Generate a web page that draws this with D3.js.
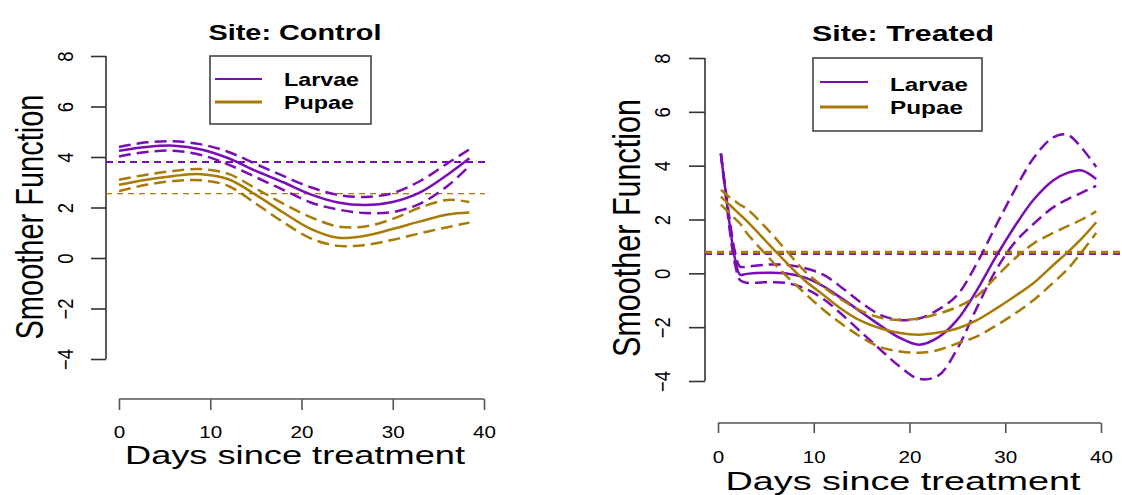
<!DOCTYPE html>
<html lang="en">
<head>
<meta charset="utf-8">
<title>Smoother functions by site</title>
<script src="https://d3js.org/d3.v7.min.js"></script>
<style>
  body { margin: 0; background: #fff; }
  svg text { font-family: "Liberation Sans", Arial, sans-serif; fill: #000; }
</style>
</head>
<body>
<div id="chart"></div>
<script>
"use strict";

// ---- data ----
const yTicks = [-4, -2, 0, 2, 4, 6, 8];
const xTicks = [0, 10, 20, 30, 40];
const legendLabels = ["Larvae", "Pupae"];

const controlDays = [0, 3, 6, 9, 12, 15, 18, 21, 24, 27, 30, 33, 36, 38.4];
const controlLarvaeFit   = [4.25, 4.4, 4.45, 4.3, 3.95, 3.45, 3.0, 2.52, 2.2, 2.1, 2.22, 2.6, 3.3, 3.95];
const controlLarvaeUpper = [4.4, 4.58, 4.62, 4.5, 4.2, 3.72, 3.25, 2.8, 2.5, 2.42, 2.57, 3.05, 3.75, 4.3];
const controlLarvaeLower = [4.02, 4.2, 4.25, 4.08, 3.7, 3.2, 2.7, 2.2, 1.92, 1.78, 1.82, 2.15, 2.85, 3.65];
const controlPupaeFit    = [2.9, 3.1, 3.25, 3.32, 3.12, 2.5, 1.8, 1.15, 0.8, 0.88, 1.15, 1.45, 1.72, 1.8];
const controlPupaeUpper  = [3.1, 3.3, 3.45, 3.52, 3.33, 2.75, 2.15, 1.62, 1.25, 1.25, 1.55, 2.0, 2.3, 2.22];
const controlPupaeLower  = [2.65, 2.9, 3.05, 3.08, 2.85, 2.15, 1.42, 0.78, 0.48, 0.52, 0.72, 0.98, 1.22, 1.4];
const controlRefLines    = [3.8, 2.55];   // larvae, pupae

const treatedDays = [0.3, 0.8, 1.3, 1.8, 2.3, 3, 5, 7, 9, 11, 13, 15, 17, 19, 21, 23, 25, 27, 29, 31, 33, 35, 36.5, 38, 39.5];
const treatedLarvaeFit   = [4.45, 3.0, 1.6, 0.5, -0.05, -0.02, 0.02, 0.0, -0.15, -0.48, -0.95, -1.45, -1.95, -2.4, -2.65, -2.38, -1.72, -0.65, 0.6, 1.75, 2.75, 3.45, 3.73, 3.82, 3.5];
const treatedLarvaeUpper = [4.45, 3.1, 1.8, 0.75, 0.25, 0.25, 0.32, 0.32, 0.2, -0.05, -0.55, -1.1, -1.55, -1.73, -1.68, -1.35, -0.8, 0.35, 1.75, 3.1, 4.3, 5.05, 5.15, 4.65, 3.95];
const treatedLarvaeLower = [4.45, 2.9, 1.4, 0.3, -0.25, -0.35, -0.33, -0.35, -0.55, -0.95, -1.55, -2.2, -2.85, -3.47, -3.92, -3.8, -2.8, -1.3, 0.1, 1.15, 1.85, 2.45, 2.75, 3.0, 3.25];
const treatedPupaeFit    = [2.85, 2.68, 2.52, 2.35, 2.18, 1.95, 1.2, 0.45, -0.25, -0.8, -1.35, -1.78, -2.05, -2.22, -2.28, -2.2, -2.05, -1.75, -1.32, -0.85, -0.35, 0.3, 0.78, 1.3, 1.9];
const treatedPupaeUpper  = [3.1, 2.95, 2.8, 2.68, 2.55, 2.4, 1.7, 0.9, 0.1, -0.5, -1.0, -1.4, -1.65, -1.73, -1.68, -1.5, -1.25, -0.85, -0.15, 0.55, 1.12, 1.5, 1.75, 2.0, 2.3];
const treatedPupaeLower  = [2.55, 2.38, 2.2, 2.02, 1.85, 1.5, 0.7, -0.05, -0.72, -1.35, -1.9, -2.38, -2.75, -2.9, -2.95, -2.85, -2.6, -2.35, -1.95, -1.5, -0.98, -0.35, 0.15, 0.8, 1.5];
const treatedRefLines    = [0.74, 0.78];

// ---- look ----
const purple = "#7a0db3", gold = "#a87a06", axisCol = "#333";

const panels = [
  { title: "Site: Control", days: controlDays,
    larvae: [controlLarvaeFit, controlLarvaeUpper, controlLarvaeLower],
    pupae:  [controlPupaeFit, controlPupaeUpper, controlPupaeLower],
    refs: controlRefLines,
    xr: [119, 484], yr: [359, 56], xAxisY: 399, yAxisX: 106, refEnd: 485,
    ytick: 15, xtick: 11, yLabX: 65, xLabY: 438, titleX: 295, titleY: 40, titleW: 173,
    xTitleY: 464, xTitleW: 340, yTitleX: 43, yTitleY: 217, yTitleL: 245,
    legend: { x0: 210, x1: 371, y0: 56, y1: 124, lx0: 215, lx1: 262, ly: [79, 102], tx: 284, ty: [86, 109], tw: [75, 70] },
    refStyle: [{ w: 2, dash: "7,5" }, { w: 1.3, dash: "6,5" }] },
  { title: "Site: Treated", days: treatedDays,
    larvae: [treatedLarvaeFit, treatedLarvaeUpper, treatedLarvaeLower],
    pupae:  [treatedPupaeFit, treatedPupaeUpper, treatedPupaeLower],
    refs: treatedRefLines,
    xr: [718, 1101], yr: [381, 58], xAxisY: 423, yAxisX: 705, refEnd: 1120,
    ytick: 16, xtick: 10, yLabX: 662, xLabY: 463, titleX: 903, titleY: 41, titleW: 182,
    xTitleY: 490, xTitleW: 355, yTitleX: 640, yTitleY: 228, yTitleL: 258,
    legend: { x0: 813, x1: 982, y0: 58, y1: 131, lx0: 820, lx1: 868, ly: [82, 107], tx: 890, ty: [91, 114], tw: [78, 73] },
    refStyle: [{ w: 3, dash: "7,5" }, { w: 3, dash: "7,5" }] }
];

const svg = d3.select("#chart").append("svg")
  .attr("width", 1122).attr("height", 495);

panels.forEach(drawPanel);

function drawPanel(p) {
  const x = d3.scaleLinear().domain([0, 40]).range(p.xr);
  const y = d3.scaleLinear().domain([-4, 8]).range(p.yr);
  const g = svg.append("g");

  // y axis (labels rotated like R's las=0)
  const ya = g.append("g")
    .attr("transform", "translate(" + p.yAxisX + ",0)")
    .call(d3.axisLeft(y).tickValues(yTicks).tickSize(p.ytick).tickSizeOuter(0).tickFormat(d3.format("d")));
  ya.select(".domain").attr("d", "M0," + y(-4) + "V" + y(8));
  ya.selectAll("line, path").attr("stroke", axisCol).attr("stroke-width", 1.6);
  ya.selectAll("text")
    .attr("x", null).attr("dy", null)
    .attr("font-size", 18.5)
    .attr("text-anchor", "middle")
    .attr("transform", "translate(" + (p.yLabX - p.yAxisX + 8) + ",0) scale(1.2,1) rotate(-90)");

  // x axis
  const xa = g.append("g")
    .attr("transform", "translate(0," + p.xAxisY + ")")
    .call(d3.axisBottom(x).tickValues(xTicks).tickSize(p.xtick).tickSizeOuter(0));
  xa.selectAll("line, path").attr("stroke", "#555").attr("stroke-width", 1.6);
  xa.select(".domain").attr("d", "M" + x(0) + ",0H" + x(40));
  xa.selectAll("text")
    .attr("y", null).attr("dy", null)
    .attr("font-size", 16.5)
    .attr("transform", "translate(0," + (p.xLabY - p.xAxisY) + ") scale(1.25,1)");

  // horizontal reference lines
  [purple, gold].forEach((c, i) => {
    g.append("line")
      .attr("x1", p.yAxisX).attr("x2", p.refEnd)
      .attr("y1", y(p.refs[i])).attr("y2", y(p.refs[i]))
      .attr("stroke", c).attr("stroke-width", p.refStyle[i].w)
      .attr("stroke-dasharray", p.refStyle[i].dash);
  });

  // smoother curves with bands
  const line = vals => d3.line()
    .x((d, i) => x(p.days[i]))
    .y(d => y(d))
    .curve(d3.curveCatmullRom.alpha(0.5))(vals);

  [[p.larvae, purple], [p.pupae, gold]].forEach(([set, c]) => {
    set.forEach((vals, k) => {
      g.append("path")
        .attr("d", line(vals))
        .attr("fill", "none")
        .attr("stroke", c)
        .attr("stroke-width", 2.5)
        .attr("stroke-dasharray", k === 0 ? null : "12,6");
    });
  });

  // title
  g.append("text")
    .attr("x", p.titleX).attr("y", p.titleY)
    .attr("text-anchor", "middle")
    .attr("font-size", 22).attr("font-weight", "bold")
    .attr("textLength", p.titleW).attr("lengthAdjust", "spacingAndGlyphs")
    .text(p.title);

  // axis titles
  g.append("text")
    .attr("x", p.titleX).attr("y", p.xTitleY)
    .attr("text-anchor", "middle")
    .attr("font-size", 26)
    .attr("textLength", p.xTitleW).attr("lengthAdjust", "spacingAndGlyphs")
    .text("Days since treatment");

  g.append("g")
    .attr("transform", "translate(" + p.yTitleX + "," + p.yTitleY + ") scale(1.35,1) rotate(-90)")
    .append("text")
    .attr("text-anchor", "middle")
    .attr("font-size", 29)
    .attr("textLength", p.yTitleL).attr("lengthAdjust", "spacingAndGlyphs")
    .text("Smoother Function");

  // legend
  const L = p.legend;
  g.append("rect")
    .attr("x", L.x0).attr("y", L.y0)
    .attr("width", L.x1 - L.x0).attr("height", L.y1 - L.y0)
    .attr("fill", "#fff").attr("stroke", "#444").attr("stroke-width", 1.6);
  legendLabels.forEach((lab, i) => {
    g.append("line")
      .attr("x1", L.lx0).attr("x2", L.lx1)
      .attr("y1", L.ly[i]).attr("y2", L.ly[i])
      .attr("stroke", i === 0 ? purple : gold)
      .attr("stroke-width", i === 0 ? 1.8 : 3);
    g.append("text")
      .attr("x", L.tx).attr("y", L.ty[i])
      .attr("font-size", 18.5).attr("font-weight", "bold")
      .attr("textLength", L.tw[i]).attr("lengthAdjust", "spacingAndGlyphs")
      .text(lab);
  });
}
</script>
</body>
</html>
